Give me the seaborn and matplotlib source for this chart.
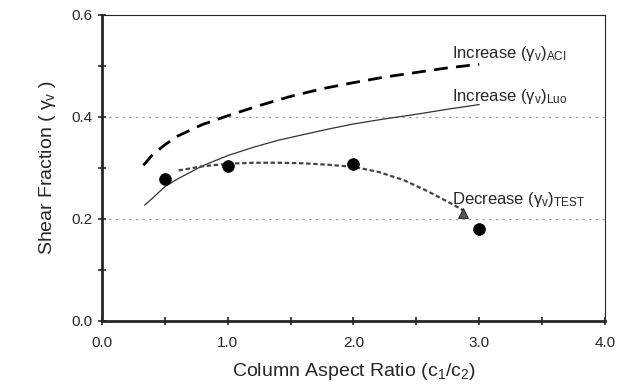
import numpy as np
import pandas as pd
import seaborn as sns
import matplotlib.pyplot as plt
from matplotlib.ticker import MultipleLocator, FormatStrFormatter

# ACI curve (heavy dashed)
aci_x = [0.33, 0.4, 0.5, 0.6, 0.8, 1.0, 1.25, 1.5, 1.75, 2.0, 2.25, 2.5, 2.75, 3.0]
aci_y = [0.305, 0.325, 0.345, 0.362, 0.385, 0.402, 0.422, 0.440, 0.455,
         0.467, 0.478, 0.487, 0.496, 0.503]

# Luo curve (thin solid)
luo_x = [0.34, 0.4, 0.5, 0.6, 0.8, 1.0, 1.2, 1.4, 1.6, 1.8, 2.0, 2.25, 2.5, 2.75, 3.0]
luo_y = [0.227, 0.240, 0.263, 0.278, 0.304, 0.324, 0.340, 0.354, 0.365,
         0.376, 0.386, 0.396, 0.405, 0.415, 0.424]

# test trend (short dashes)
test_x = [0.61, 0.8, 1.0, 1.2, 1.4, 1.6, 1.8, 2.0, 2.2, 2.4, 2.6, 2.8, 2.87]
test_y = [0.295, 0.303, 0.308, 0.310, 0.310, 0.309, 0.306, 0.302, 0.292,
          0.276, 0.253, 0.227, 0.217]

# measured points
pts_x = [0.5, 1.0, 2.0, 3.0]
pts_y = [0.278, 0.304, 0.308, 0.180]

sns.set_style("ticks")
plt.rcParams["font.family"] = ["Liberation Sans", "DejaVu Sans"]
plt.rcParams["mathtext.fontset"] = "custom"
plt.rcParams["mathtext.rm"] = "Liberation Sans"
plt.rcParams["mathtext.it"] = "Liberation Sans"

fig, ax = plt.subplots(figsize=(6.25, 3.89), dpi=100)

# gridlines at 0.2 and 0.4
for g in [0.2, 0.4]:
    ax.axhline(g, color="#999999", lw=0.8, ls=(0, (2, 4)), zorder=0)

sns.lineplot(x=aci_x, y=aci_y, ax=ax, color="black", lw=2.0,
             linestyle=(0, (5, 3)), sort=False)
sns.lineplot(x=luo_x, y=luo_y, ax=ax, color="#333333", lw=0.9, sort=False)
sns.lineplot(x=test_x, y=test_y, ax=ax, color="#444444", lw=1.6,
             linestyle=(0, (2, 1.2)), sort=False)
sns.scatterplot(x=pts_x, y=pts_y, ax=ax, color="black", s=70,
                edgecolor="black", zorder=5)
ax.plot([test_x[-1]], [test_y[-1] - 0.006], marker="^", color="#555555",
        ms=7, mec="black", mew=0.5, zorder=5)

ax.text(2.78, 0.525, r"Increase ($\gamma_\mathrm{v}$)$_\mathrm{ACI}$", fontsize=12, va="center")
ax.text(2.78, 0.44, r"Increase ($\gamma_\mathrm{v}$)$_\mathrm{Luo}$", fontsize=12, va="center")
ax.text(2.78, 0.237, r"Decrease ($\gamma_\mathrm{v}$)$_\mathrm{TEST}$", fontsize=12, va="center")

ax.set_xlim(0, 4.0)
ax.set_ylim(0, 0.6)
ax.xaxis.set_major_locator(MultipleLocator(1.0))
ax.xaxis.set_minor_locator(MultipleLocator(0.5))
ax.yaxis.set_major_locator(MultipleLocator(0.2))
ax.yaxis.set_minor_locator(MultipleLocator(0.1))
ax.xaxis.set_major_formatter(FormatStrFormatter("%.1f"))
ax.yaxis.set_major_formatter(FormatStrFormatter("%.1f"))
ax.tick_params(which="both", direction="inout", length=6, width=1.2,
               labelsize=11)
ax.tick_params(axis="x", pad=8)

for side in ["left", "bottom"]:
    ax.spines[side].set_linewidth(2.0)
for side in ["top", "right"]:
    ax.spines[side].set_linewidth(0.8)

ax.set_xlabel("Column Aspect Ratio (c$_1$/c$_2$)", fontsize=14, labelpad=8)
ax.set_ylabel(r"Shear Fraction ( $\gamma_\mathrm{v}$ )", fontsize=14, labelpad=10)

fig.subplots_adjust(left=0.163, right=0.968, top=0.962, bottom=0.175)
fig.savefig("out.png", dpi=100)
